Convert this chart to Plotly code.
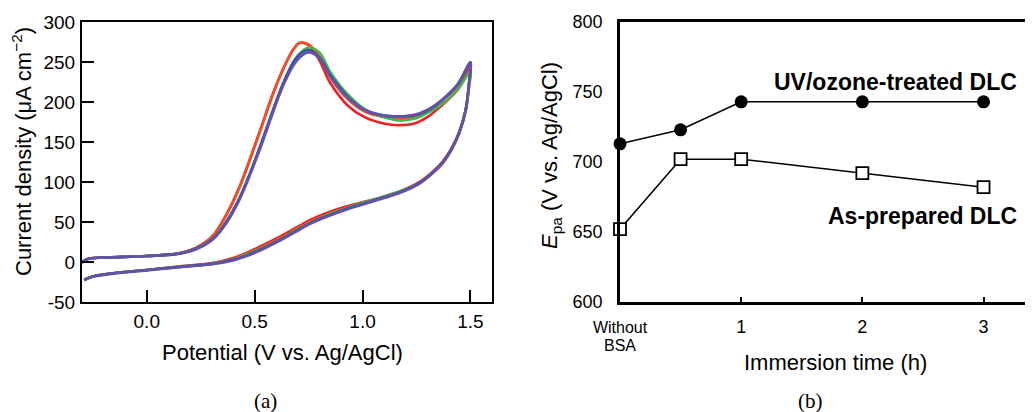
import plotly.graph_objects as go

# ---------- (a) cyclic voltammograms ----------
pot_forward = [-0.30, -0.27, -0.20, 0.00, 0.15, 0.23, 0.31, 0.37, 0.43, 0.48, 0.53, 0.58, 0.63,
               0.68, 0.71, 0.75, 0.80, 0.85, 0.93, 1.01, 1.10, 1.17, 1.24, 1.30, 1.36, 1.44, 1.50]
pot_reverse = [1.494, 1.478, 1.447, 1.41, 1.37, 1.33, 1.27, 1.18, 1.10, 0.99, 0.92, 0.84, 0.76,
               0.68, 0.62, 0.53, 0.46, 0.40, 0.31, 0.155, 0.0, -0.155, -0.25, -0.29]

red_fwd = [-1, 4, 5.5, 7.5, 11, 18, 34, 60, 94, 130, 168, 207, 240, 266, 274, 271, 252, 224, 196,
           181, 173, 171, 173, 181, 194, 215, 242]
red_rev = [222, 190, 162, 141, 125, 114, 101, 89, 82, 74, 69, 62, 53, 41, 32, 20, 11, 5, -1, -5.5,
           -10, -14, -18, -22]

orange_fwd = [-1, 4, 5.5, 7.5, 11, 18, 34, 59, 93, 129, 167, 206, 240, 266, 274, 272, 257, 231, 204,
              188, 181, 179, 181, 188, 200, 220, 246]
orange_rev = [224, 190, 161, 140, 124, 113, 100, 88, 81, 73, 67, 60, 51, 39, 30, 18, 10, 4, -1.5, -6,
              -10, -14, -18, -22]

green_fwd = [0, 4, 5.5, 7.5, 10.5, 17, 30, 51, 80, 112, 148, 186, 222, 250, 261, 268, 262, 238, 210,
             191, 181, 177, 179, 186, 196, 215, 238]
green_rev = [220, 188, 160, 140, 124, 113, 100, 89, 82, 73, 67, 59, 49, 38, 28, 17, 9, 3, -2, -6,
             -10, -14, -18, -22]

blue_fwd = [0, 4, 5.5, 7.5, 10.5, 17, 30, 51, 80, 112, 148, 186, 222, 250, 260, 265, 256, 234, 207,
            190, 183, 182, 183, 189, 200, 221, 248]
blue_rev = [225, 190, 161, 140, 124, 113, 100, 88, 81, 72, 66, 58, 49, 37, 28, 16, 8, 3, -2, -6,
            -10, -14, -18, -22.5]

purple_fwd = [0, 4, 5.5, 7.5, 10.5, 16, 29, 49, 78, 110, 145, 183, 219, 246, 256, 262, 255, 232, 206,
              190, 183, 182, 184, 190, 201, 222, 250]
purple_rev = [226, 190, 161, 139, 123, 112, 99, 87, 80, 71, 65, 57, 48, 36, 27, 15, 7, 2, -2.5, -6.5,
              -10.5, -14.5, -18.5, -23]

cv_series = [
    ("red", "#ee2024", red_fwd, red_rev),
    ("orange", "#f24e22", orange_fwd, orange_rev),
    ("green", "#47b649", green_fwd, green_rev),
    ("blue", "#3553a8", blue_fwd, blue_rev),
    ("purple", "#6651a8", purple_fwd, purple_rev),
]

a_yticks = [-50, 0, 50, 100, 150, 200, 250, 300]
a_yticktext = ["-50", "0", "50", "100", "150", "200", "250", "300"]
a_xticks = [0.0, 0.5, 1.0, 1.5]
a_xticktext = ["0.0", "0.5", "1.0", "1.5"]

# ---------- (b) peak potential vs immersion time ----------
time_h = [0, 0.5, 1, 2, 3]
uv_ozone = [713, 723, 743, 743, 743]
as_prepared = [652, 702, 702, 692, 682]
b_xticks = [0, 1, 2, 3]
b_xticktext = ["<span style='font-size:16px'>Without<br>BSA</span>",
               "<span style='font-size:18px'>1</span>",
               "<span style='font-size:18px'>2</span>",
               "<span style='font-size:18px'>3</span>"]
b_yticks = [600, 650, 700, 750, 800]

# page body has an 8px margin, so the figure is drawn 8px in from the window corner
OFF = 8
W, H = 1033 - OFF, 412 - OFF
def px(x):
    return (x - OFF) / W
def py(y):
    return 1 - (y - OFF) / H

fig = go.Figure()

for name, col, fwd, rev in cv_series:
    fig.add_trace(go.Scatter(
        x=pot_forward + pot_reverse, y=fwd + rev, mode="lines", name=name,
        line=dict(color=col, width=2.6, shape="spline", smoothing=1.0),
        xaxis="x", yaxis="y", showlegend=False))

fig.add_trace(go.Scatter(
    x=time_h, y=uv_ozone, mode="lines+markers",
    line=dict(color="black", width=1.5),
    marker=dict(symbol="circle", size=13, color="black"),
    xaxis="x2", yaxis="y2", showlegend=False, cliponaxis=False))
fig.add_trace(go.Scatter(
    x=time_h, y=as_prepared, mode="lines+markers",
    line=dict(color="black", width=1.5),
    marker=dict(symbol="square", size=12, color="white", line=dict(color="black", width=1.8)),
    xaxis="x2", yaxis="y2", showlegend=False, cliponaxis=False))

font_family = "Liberation Sans, Arial, sans-serif"

fig.update_layout(
    width=W, height=H, autosize=False,
    margin=dict(l=0, r=0, t=0, b=0, pad=0),
    paper_bgcolor="white", plot_bgcolor="white",
    font=dict(family=font_family, color="black"),
    xaxis=dict(domain=[px(82), px(492)], range=[-0.30, 1.60], anchor="y", automargin=False,
               tickvals=a_xticks, ticktext=a_xticktext, ticks="inside", ticklen=12, tickwidth=2,
               tickcolor="black", showline=True, linecolor="black", linewidth=2, mirror=True,
               showgrid=False, zeroline=False, tickfont=dict(size=19), ticklabelstandoff=1),
    yaxis=dict(domain=[py(302), py(22)], range=[-50, 300], anchor="x", automargin=False,
               tickvals=a_yticks, ticktext=a_yticktext, ticks="inside", ticklen=12, tickwidth=2,
               tickcolor="black", showline=True, linecolor="black", linewidth=2, mirror=True,
               showgrid=False, zeroline=False, tickfont=dict(size=19), ticklabelstandoff=1),
    xaxis2=dict(domain=[px(620), px(1032)], range=[0, 3.40], anchor="y2", automargin=False,
                tickvals=b_xticks, ticktext=b_xticktext, ticks="inside", ticklen=5, tickwidth=2,
                tickcolor="black", showline=True, linecolor="black", linewidth=2.5, mirror=True,
                showgrid=False, zeroline=False, tickfont=dict(size=14), ticklabelstandoff=11),
    yaxis2=dict(domain=[py(302), py(22)], range=[600, 800], anchor="x2", automargin=False,
                tickvals=b_yticks, ticks="", showline=True, linecolor="black", linewidth=2.5,
                mirror=True, showgrid=False, zeroline=False, tickfont=dict(size=18),
                ticklabelstandoff=11),
)

annotations = [
    dict(text="Potential (V vs. Ag/AgCl)", x=px(282), y=py(352), font=dict(size=22)),
    dict(text="Current density (μA cm<sup>−2</sup>)", x=px(22), y=py(152), textangle=-90,
         font=dict(size=22)),
    dict(text="Immersion time (h)", x=px(835), y=py(362), font=dict(size=22)),
    dict(text="<i>E</i><sub>pa</sub> (V vs. Ag/AgCl)", x=px(551), y=py(156), textangle=-90,
         font=dict(size=22)),
    dict(text="<b>UV/ozone-treated DLC</b>", x=px(1019), y=py(82), xanchor="right",
         font=dict(size=23)),
    dict(text="<b>As-prepared DLC</b>", x=px(1019), y=py(216), xanchor="right",
         font=dict(size=23)),
    dict(text="(a)", x=px(265), y=py(401), font=dict(size=21, family="Liberation Serif, Times New Roman, serif")),
    dict(text="(b)", x=px(810), y=py(401), font=dict(size=21, family="Liberation Serif, Times New Roman, serif")),
]
for a in annotations:
    a.setdefault("xanchor", "center")
    a.update(xref="paper", yref="paper", yanchor="middle", showarrow=False)
fig.update_layout(annotations=annotations)

fig.write_html("out.html")
